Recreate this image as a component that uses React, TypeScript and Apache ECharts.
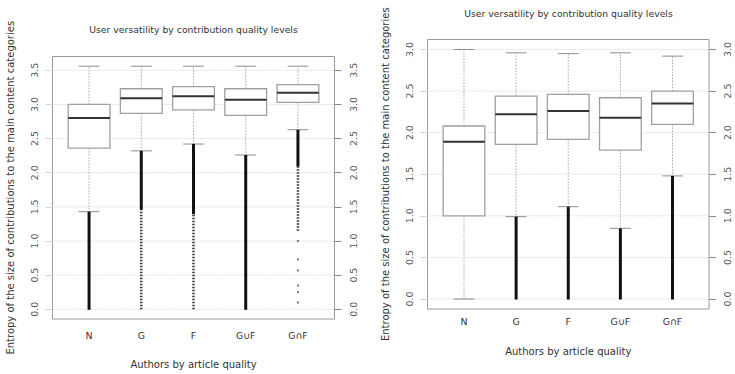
import React, { useEffect, useRef } from 'react';
import * as echarts from 'echarts';

const categories = ['N', 'G', 'F', 'G∪F', 'G∩F'];
const xPositions = [1, 2, 3, 4, 5];
const titleText = 'User versatility by contribution quality levels';
const yAxisTitle = 'Entropy of the size of contributions to the main content categories';
const xAxisTitle = 'Authors by article quality';

// [lower whisker, Q1, median, Q3, upper whisker]
const leftStats = [
  [1.43, 2.36, 2.80, 3.00, 3.56],
  [2.32, 2.87, 3.09, 3.23, 3.56],
  [2.42, 2.92, 3.12, 3.26, 3.56],
  [2.26, 2.84, 3.07, 3.23, 3.56],
  [2.63, 3.03, 3.17, 3.29, 3.56],
];
const rightStats = [
  [0.00, 1.00, 1.89, 2.08, 3.00],
  [0.99, 1.86, 2.22, 2.44, 2.96],
  [1.11, 1.92, 2.26, 2.46, 2.95],
  [0.85, 1.79, 2.18, 2.42, 2.96],
  [1.48, 2.10, 2.35, 2.50, 2.92],
];

const leftTicks = [0, 0.5, 1, 1.5, 2, 2.5, 3, 3.5];
const rightTicks = [0, 0.5, 1, 1.5, 2, 2.5, 3];
const leftRange = [-0.142, 3.702];
const rightRange = [-0.12, 3.12];
const xRange = [0.3, 5.7];

// outliers packed so densely they form a solid run: [position, from, to]
const leftDenseOutliers = [
  [1, 0, 1.43],
  [2, 1.47, 2.32],
  [3, 1.4, 2.42],
  [4, 0, 2.26],
  [5, 2.1, 2.63],
];
// looser runs of outlier points: [position, from, to]
const leftSparseOutliers = [
  [2, 0, 1.47],
  [3, 0, 1.4],
  [5, 1.15, 2.1],
];
// isolated outliers: [position, value]
const leftIsolatedOutliers = [
  [5, 1.0], [5, 0.73], [5, 0.57], [5, 0.35], [5, 0.25], [5, 0.1],
];
const rightDenseOutliers = [
  [2, 0, 0.99],
  [3, 0, 1.11],
  [4, 0, 0.85],
  [5, 0, 1.48],
];

const FONT = 'DejaVu Sans';

const boxRender = (params: any, api: any) => {
  const x = api.value(0);
  const lo = api.coord([x, api.value(1)]);
  const q1 = api.coord([x, api.value(2)]);
  const md = api.coord([x, api.value(3)]);
  const q3 = api.coord([x, api.value(4)]);
  const hi = api.coord([x, api.value(5)]);
  const w = api.size([0.8, 0])[0];
  const cx = lo[0];
  const cap = w / 4;
  const whisk = { stroke: '#a8a8a8', lineWidth: 1, lineDash: [1.5, 1.5] };
  const capStyle = { stroke: '#8e8e8e', lineWidth: 1 };
  return {
    type: 'group',
    children: [
      { type: 'line', shape: { x1: cx, y1: q3[1], x2: cx, y2: hi[1] }, style: whisk },
      { type: 'line', shape: { x1: cx, y1: q1[1], x2: cx, y2: lo[1] }, style: whisk },
      { type: 'line', shape: { x1: cx - cap, y1: hi[1], x2: cx + cap, y2: hi[1] }, style: capStyle },
      { type: 'line', shape: { x1: cx - cap, y1: lo[1], x2: cx + cap, y2: lo[1] }, style: capStyle },
      {
        type: 'rect',
        shape: { x: cx - w / 2, y: q3[1], width: w, height: q1[1] - q3[1] },
        style: { fill: '#ffffff', stroke: '#a0a0a0', lineWidth: 1.3 },
      },
      { type: 'line', shape: { x1: cx - w / 2, y1: md[1], x2: cx + w / 2, y2: md[1] }, style: { stroke: '#333333', lineWidth: 2 } },
    ],
  };
};

const denseRender = (params: any, api: any) => {
  const x = api.value(0);
  const a = api.coord([x, api.value(1)]);
  const b = api.coord([x, api.value(2)]);
  return {
    type: 'line',
    shape: { x1: a[0], y1: a[1] + 0.5, x2: b[0], y2: b[1] },
    style: { stroke: '#111111', lineWidth: 3 },
  };
};

const sparseRender = (params: any, api: any) => {
  const x = api.value(0);
  const a = api.coord([x, api.value(1)]);
  const b = api.coord([x, api.value(2)]);
  return {
    type: 'line',
    shape: { x1: a[0], y1: a[1], x2: b[0], y2: b[1] },
    style: { stroke: '#3a3a3a', lineWidth: 2.5, lineDash: [1.5, 1.5] },
  };
};

const gridRender = (params: any, api: any) => {
  const y = api.coord([1, api.value(1)])[1];
  const cs = params.coordSys;
  return {
    type: 'line',
    shape: { x1: cs.x, y1: y, x2: cs.x + cs.width, y2: y },
    style: { stroke: '#e0e0e0', lineWidth: 1, lineDash: [2, 1] },
  };
};

function makeXAxis(gridIndex: number, margin: number, nameGap: number) {
  return {
    type: 'value',
    gridIndex,
    min: xRange[0],
    max: xRange[1],
    axisLine: { show: false },
    axisTick: { show: false },
    splitLine: { show: false },
    axisLabel: {
      customValues: xPositions,
      formatter: (v: number) => categories[Math.round(v) - 1] ?? '',
      fontSize: 9.4,
      color: '#333333',
      fontFamily: FONT,
      margin,
    },
    name: xAxisTitle,
    nameLocation: 'middle',
    nameGap,
    nameTextStyle: { fontSize: 10, color: '#333', fontFamily: FONT },
  };
}

function makeYAxis(gridIndex: number, range: number[], ticks: number[], position: string) {
  const left = position === 'left';
  return {
    type: 'value',
    gridIndex,
    position,
    min: range[0],
    max: range[1],
    axisLine: { show: false },
    splitLine: { show: false },
    axisTick: {
      show: true,
      customValues: ticks,
      length: 7,
      lineStyle: { color: left ? '#d6d6d6' : '#8a8a8a', width: 1 },
    },
    axisLabel: {
      customValues: ticks,
      rotate: 90,
      margin: 14,
      fontSize: 9.4,
      color: '#555',
      fontFamily: FONT,
      formatter: (v: number) => v.toFixed(1),
    },
    name: left ? yAxisTitle : '',
    nameLocation: 'middle',
    nameRotate: 90,
    nameGap: 37,
    nameTextStyle: { fontSize: 10, color: '#333', fontFamily: FONT },
  };
}

export default function App() {
  const ref = useRef<HTMLDivElement>(null);
  useEffect(() => {
    if (!ref.current) return;
    const chart = echarts.init(ref.current, undefined, { renderer: 'svg' });
    const option: any = {
      animation: false,
      backgroundColor: '#ffffff',
      textStyle: { fontFamily: FONT },
      grid: [
        { left: 52.5, top: 56.5, width: 282, height: 269.5, show: true, borderColor: '#9a9a9a', borderWidth: 1, backgroundColor: 'transparent' },
        { left: 427.5, top: 39.5, width: 281.5, height: 269.5, show: true, borderColor: '#9a9a9a', borderWidth: 1, backgroundColor: 'transparent' },
      ],
      xAxis: [makeXAxis(0, 12, 40), makeXAxis(1, 8, 37)],
      yAxis: [
        makeYAxis(0, leftRange, leftTicks, 'left'),
        makeYAxis(0, leftRange, leftTicks, 'right'),
        makeYAxis(1, rightRange, rightTicks, 'left'),
        makeYAxis(1, rightRange, rightTicks, 'right'),
      ],
      graphic: [
        { type: 'text', x: 193.5, y: 29, style: { text: titleText, fontSize: 9.3, fill: '#333', fontFamily: FONT, textAlign: 'center', textVerticalAlign: 'middle' } },
        { type: 'text', x: 568.5, y: 13, style: { text: titleText, fontSize: 9.3, fill: '#333', fontFamily: FONT, textAlign: 'center', textVerticalAlign: 'middle' } },
      ],
      series: [
        { type: 'custom', xAxisIndex: 0, yAxisIndex: 0, z: 1, silent: true, renderItem: gridRender, data: leftTicks.map((v) => [1, v]) },
        { type: 'custom', xAxisIndex: 1, yAxisIndex: 2, z: 1, silent: true, renderItem: gridRender, data: rightTicks.map((v) => [1, v]) },
        { type: 'custom', xAxisIndex: 0, yAxisIndex: 0, z: 2, renderItem: boxRender, data: leftStats.map((s, i) => [xPositions[i], ...s]) },
        { type: 'custom', xAxisIndex: 1, yAxisIndex: 2, z: 2, renderItem: boxRender, data: rightStats.map((s, i) => [xPositions[i], ...s]) },
        { type: 'custom', xAxisIndex: 0, yAxisIndex: 0, z: 3, renderItem: sparseRender, data: leftSparseOutliers },
        { type: 'custom', xAxisIndex: 0, yAxisIndex: 0, z: 4, renderItem: denseRender, data: leftDenseOutliers },
        { type: 'custom', xAxisIndex: 1, yAxisIndex: 2, z: 4, renderItem: denseRender, data: rightDenseOutliers },
        {
          type: 'scatter', xAxisIndex: 0, yAxisIndex: 0, z: 4, symbol: 'rect', symbolSize: 2,
          itemStyle: { color: '#555' }, data: leftIsolatedOutliers,
        },
      ],
    };
    chart.setOption(option);
    return () => chart.dispose();
  }, []);
  return <div ref={ref} style={{ position: 'absolute', left: 0, top: 0, width: 735, height: 374 }} />;
}
